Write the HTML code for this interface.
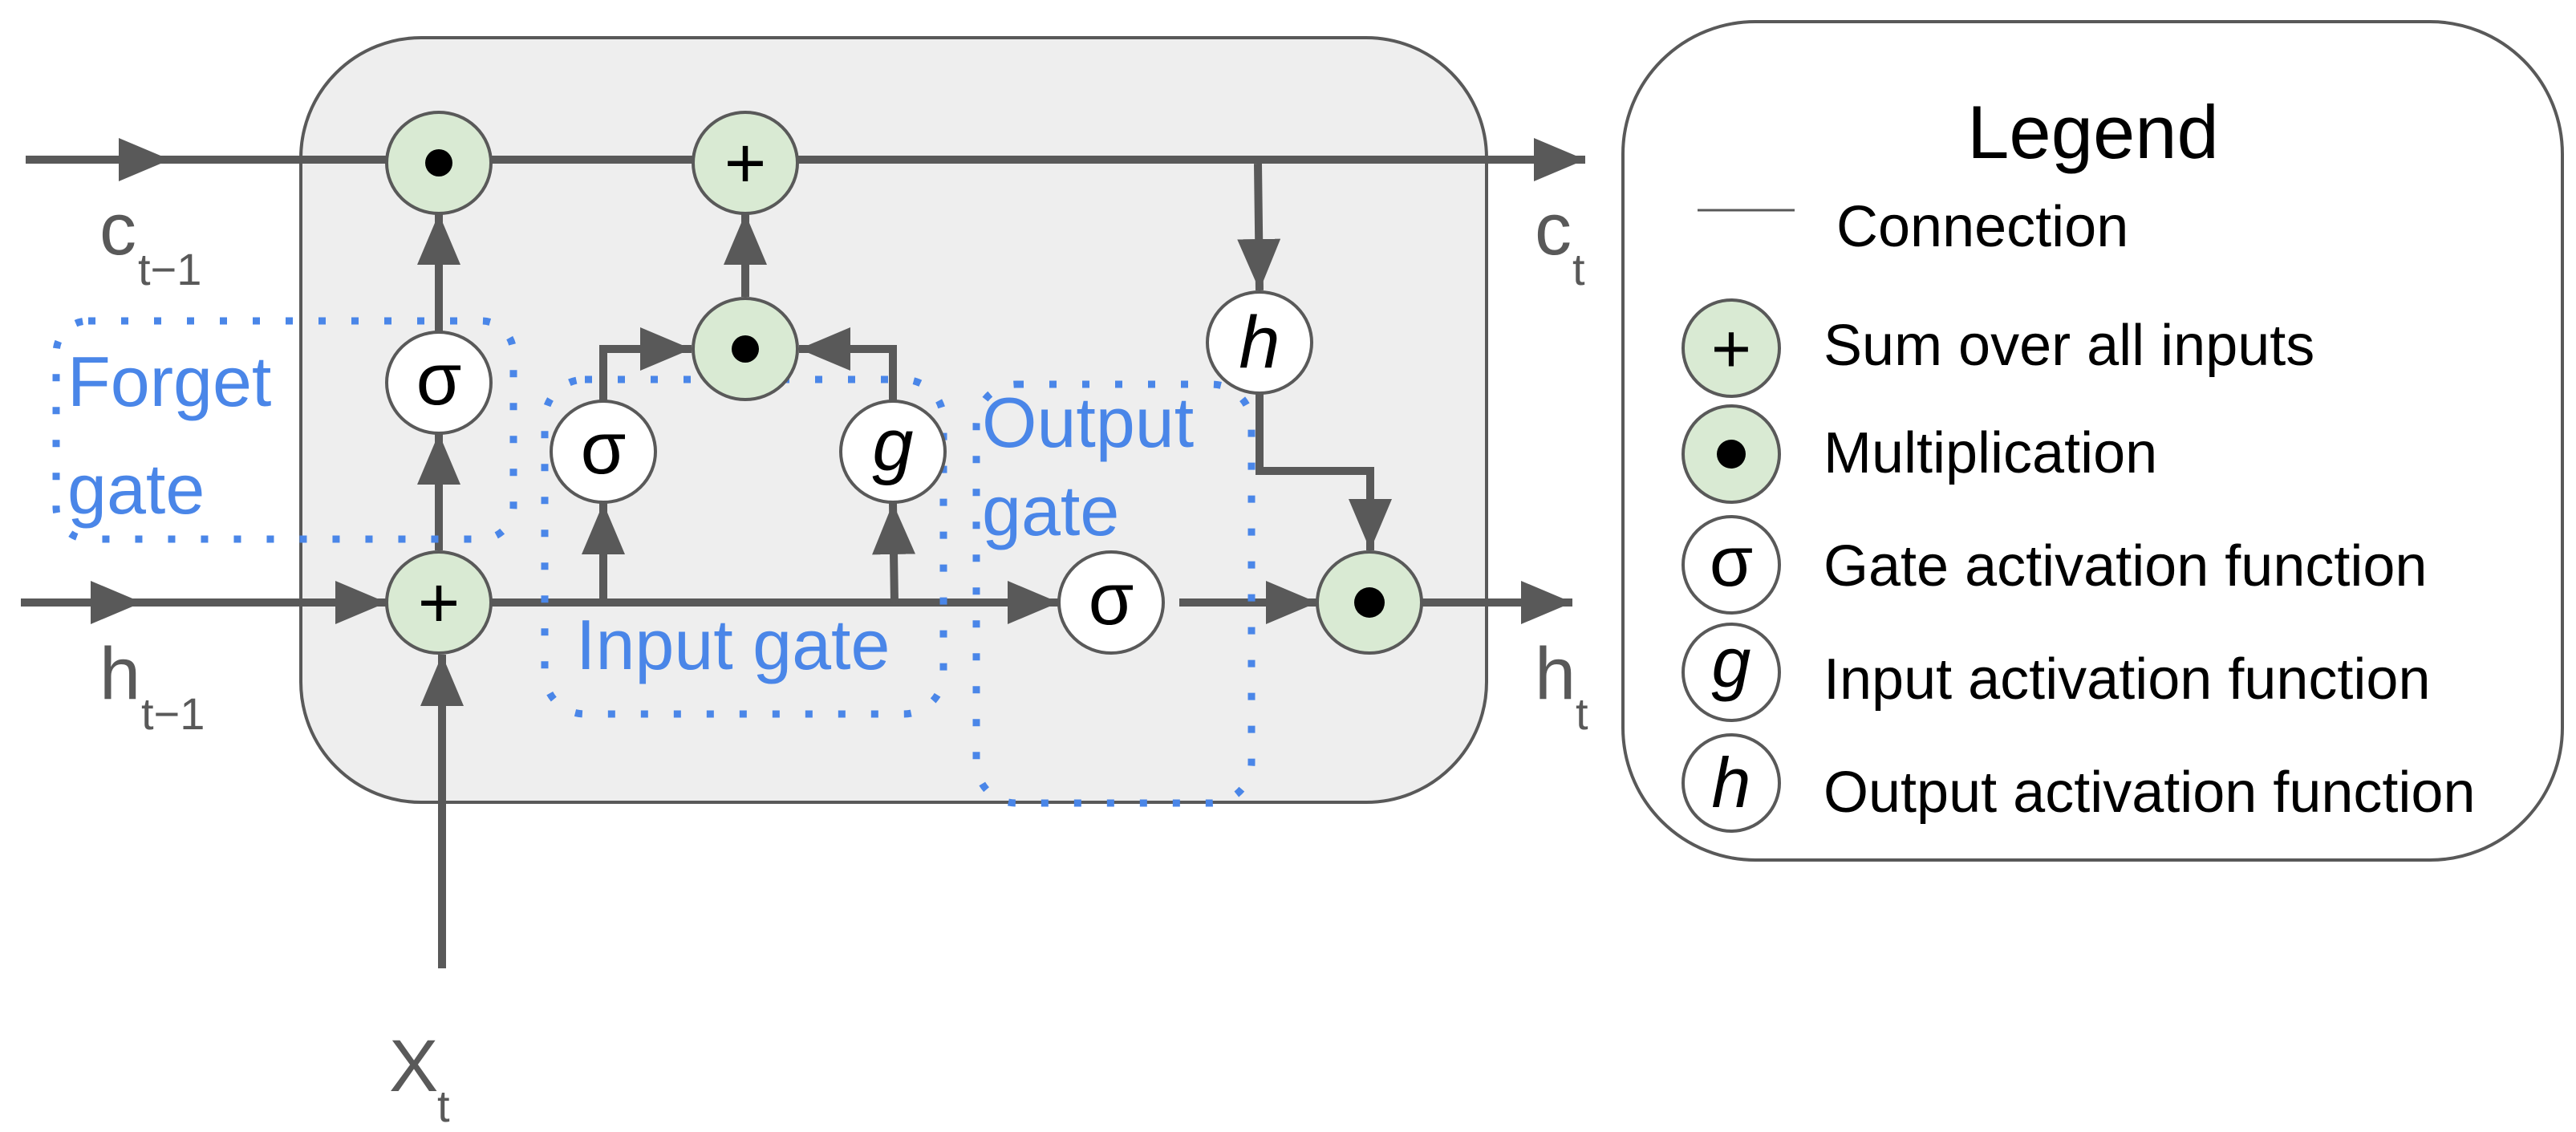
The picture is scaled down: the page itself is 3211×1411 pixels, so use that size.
<!DOCTYPE html>
<html><head><meta charset="utf-8"><style>html,body{margin:0;padding:0;background:#fff}svg{display:block}</style></head><body>
<svg width="3211" height="1411" viewBox="0 0 3211 1411" xmlns="http://www.w3.org/2000/svg" font-family="Liberation Sans, sans-serif">
<defs>
<marker id="a" markerUnits="userSpaceOnUse" markerWidth="66" markerHeight="54" refX="64" refY="27" orient="auto"><path d="M0,0 L64,27 L0,54 Z" fill="#595959"/></marker>
</defs>
<rect x="375" y="47" width="1478" height="953" rx="150" fill="#eeeeee" stroke="#595959" stroke-width="4"/>
<g stroke="#595959" stroke-width="10" fill="none">
<line x1="32" y1="199" x2="212" y2="199" marker-end="url(#a)"/>
<line x1="212" y1="199" x2="1976" y2="199" marker-end="url(#a)"/>
<line x1="26" y1="751" x2="177" y2="751" marker-end="url(#a)"/>
<line x1="177" y1="751" x2="482" y2="751" marker-end="url(#a)"/>
<line x1="612" y1="751" x2="1320" y2="751" marker-end="url(#a)"/>
<line x1="1470" y1="751" x2="1642" y2="751" marker-end="url(#a)"/>
<line x1="1772" y1="751" x2="1960" y2="751" marker-end="url(#a)"/>
<line x1="551" y1="1207" x2="551" y2="816" marker-end="url(#a)"/>
<line x1="547" y1="686" x2="547" y2="540" marker-end="url(#a)"/>
<line x1="547" y1="414" x2="547" y2="266" marker-end="url(#a)"/>
<line x1="929" y1="370" x2="929" y2="266" marker-end="url(#a)"/>
<line x1="752" y1="751" x2="752" y2="627" marker-end="url(#a)"/>
<line x1="1115" y1="751" x2="1113" y2="627" marker-end="url(#a)"/>
<polyline points="752,499 752,435 862,435" marker-end="url(#a)"/>
<polyline points="1113,499 1113,435 996,435" marker-end="url(#a)"/>
<line x1="1568" y1="204" x2="1570" y2="362" marker-end="url(#a)"/>
<polyline points="1570,490 1570,587 1708,587 1708,686" marker-end="url(#a)"/>
</g>
<g stroke="#4a86e8" stroke-width="9" fill="none" stroke-dasharray="9 32">
<rect x="70" y="400" width="570" height="272" rx="40"/>
<rect x="679" y="473" width="497" height="417" rx="50"/>
<rect x="1217" y="479" width="343" height="522" rx="50"/>
</g>
<g stroke="#595959" stroke-width="4">
<ellipse cx="547" cy="203" rx="65" ry="63" fill="#d9ead3"/>
<ellipse cx="929" cy="203" rx="65" ry="63" fill="#d9ead3"/>
<ellipse cx="929" cy="435" rx="65" ry="63" fill="#d9ead3"/>
<ellipse cx="547" cy="477" rx="65" ry="63" fill="#fff"/>
<ellipse cx="752" cy="563" rx="65" ry="63" fill="#fff"/>
<ellipse cx="1113" cy="563" rx="65" ry="63" fill="#fff"/>
<ellipse cx="1570" cy="427" rx="65" ry="63" fill="#fff"/>
<ellipse cx="547" cy="751" rx="65" ry="63" fill="#d9ead3"/>
<ellipse cx="1385" cy="751" rx="65" ry="63" fill="#fff"/>
<ellipse cx="1707" cy="751" rx="65" ry="63" fill="#d9ead3"/>
</g>
<g fill="#000">
<circle cx="547" cy="203" r="17"/><circle cx="929" cy="435" r="17"/><circle cx="1707" cy="751" r="19"/>
</g>
<g font-size="92" text-anchor="middle" fill="#000">
<text x="929" y="234" font-size="90">+</text>
<text x="547" y="782" font-size="90">+</text>
<text x="547" y="504">σ</text>
<text x="752" y="590">σ</text>
<text x="1385" y="778">σ</text>
<text x="1113" y="586" font-style="italic">g</text>
<text x="1570" y="458" font-style="italic">h</text>
</g>
<g fill="#595959">
<text x="124" y="317" font-size="92">c</text><text x="172" y="355" font-size="56">t−1</text>
<text x="124" y="871" font-size="92">h</text><text x="176" y="909" font-size="56">t−1</text>
<text x="1913" y="317" font-size="92">c</text><text x="1960" y="355" font-size="56">t</text>
<text x="1913" y="871" font-size="92">h</text><text x="1964" y="909" font-size="56">t</text>
<text x="485" y="1360" font-size="92">X</text><text x="545" y="1398" font-size="56">t</text>
</g>
<g fill="#4a86e8" font-size="88">
<text x="84" y="506">Forget</text>
<text x="84" y="640">gate</text>
<text x="718" y="834">Input gate</text>
<text x="1224" y="557">Output</text>
<text x="1224" y="667">gate</text>
</g>
<rect x="2023" y="27" width="1171" height="1045" rx="165" fill="#fff" stroke="#595959" stroke-width="4"/>
<text x="2609" y="197" font-size="94" text-anchor="middle" fill="#000">Legend</text>
<line x1="2116" y1="262" x2="2237" y2="262" stroke="#595959" stroke-width="3"/>
<g font-size="72" fill="#000">
<text x="2289" y="307">Connection</text>
<text x="2273" y="455">Sum over all inputs</text>
<text x="2273" y="589">Multiplication</text>
<text x="2273" y="730">Gate activation function</text>
<text x="2273" y="871">Input activation function</text>
<text x="2273" y="1012">Output activation function</text>
</g>
<g stroke="#595959" stroke-width="4">
<circle cx="2158" cy="434" r="60" fill="#d9ead3"/>
<circle cx="2158" cy="566" r="60" fill="#d9ead3"/>
<circle cx="2158" cy="704" r="60" fill="#fff"/>
<circle cx="2158" cy="838" r="60" fill="#fff"/>
<circle cx="2158" cy="976" r="60" fill="#fff"/>
</g>
<circle cx="2158" cy="566" r="18" fill="#000"/>
<g text-anchor="middle" fill="#000" font-size="88">
<text x="2158" y="464" font-size="86">+</text>
<text x="2158" y="730">σ</text>
<text x="2158" y="856" font-style="italic">g</text>
<text x="2158" y="1006" font-style="italic">h</text>
</g>
</svg>
</body></html>
